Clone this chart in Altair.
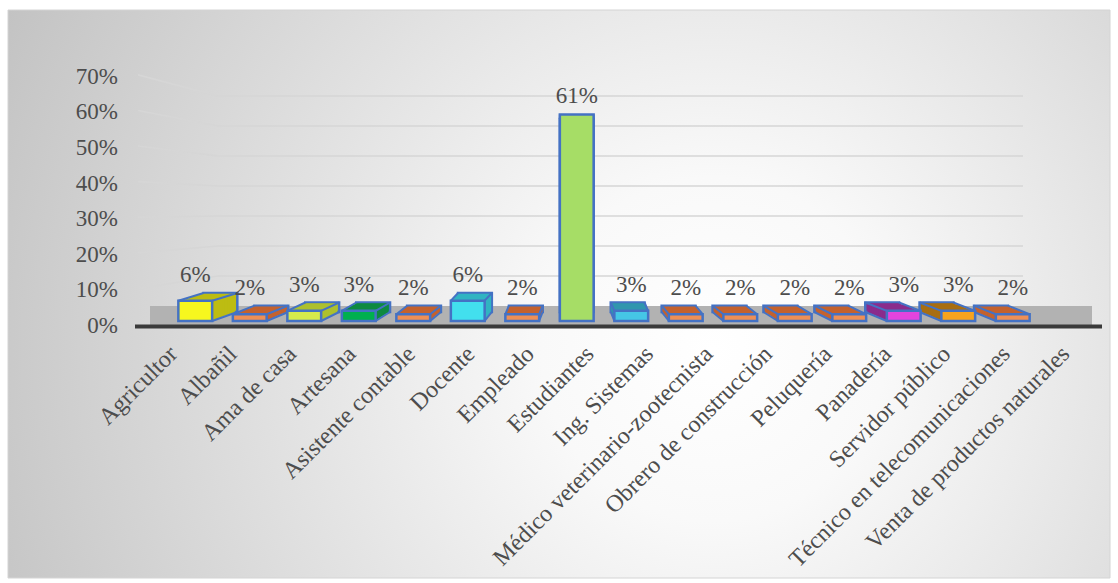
import altair as alt
import pandas as pd

# ---------------- data ----------------
categories = [
    "Agricultor", "Albañil", "Ama de casa", "Artesana", "Asistente contable",
    "Docente", "Empleado", "Estudiantes", "Ing. Sistemas",
    "Médico veterinario-zootecnista", "Obrero de construcción", "Peluquería",
    "Panadería", "Servidor público", "Técnico en telecomunicaciones",
    "Venta de productos naturales",
]
values = [6, 2, 3, 3, 2, 6, 2, 61, 3, 2, 2, 2, 2, 3, 3, 2]
tick_values = [0, 10, 20, 30, 40, 50, 60, 70]

# ---------------- styles ----------------
front_colors = [
    "#F7F71E", "#EE8F55", "#D6EA4C", "#00B04F", "#EE8F55", "#42E0EE",
    "#EE8F55", "#A6DD66", "#45C6E6", "#EE8F55", "#EE8F55", "#EE8F55",
    "#EE8F55", "#E444DE", "#F7A31E", "#EE8F55",
]
side_colors = [
    "#BDBC12", "#C4622E", "#ADC02E", "#0E8A40", "#C4622E", "#31B4C2",
    "#C4622E", "#86BE4C", "#3096AE", "#C4622E", "#C4622E", "#C4622E",
    "#C4622E", "#8A2C8C", "#A86E12", "#C4622E",
]
FONT = "Liberation Serif"
TXT = "#4d4d4d"
BLUE = "#4472C4"
W, H = 872, 237
LEFT, TOP = 168, 84

df = pd.DataFrame({"cat": categories, "v": values, "i": list(range(len(categories)))})
grid_df = pd.DataFrame({"t": tick_values})
one = pd.DataFrame({"k": [0]})

xs = alt.Scale(domain=[-0.5, len(categories) - 0.5], nice=False, zero=False)
ys = alt.Scale(domain=[0, 70], nice=False, zero=True)

# perspective helpers (Vega expressions): depth shift and back-plane mapping
DX = "clamp(0.066*(7 - datum.i), -0.4, 0.47)"
HALF = 0.31

base = alt.Chart(df)

# background panel with radial gradient
bg = alt.Chart(one).mark_rect(
    fill=alt.RadialGradient(
        gradient="radial",
        stops=[
            alt.GradientStop(offset=0, color="#ffffff"),
            alt.GradientStop(offset=0.2, color="#f9f9f9"),
            alt.GradientStop(offset=1, color="#bcbcbc"),
        ],
        x1=0.64, y1=0.55, x2=0.64, y2=0.55, r1=0, r2=0.78,
    ),
    stroke="#d4d4d4", strokeWidth=1,
).encode(x=alt.value(8 - LEFT), x2=alt.value(1110 - LEFT),
         y=alt.value(10 - TOP), y2=alt.value(578 - TOP))

# perspective gridlines
grid = alt.Chart(grid_df).transform_filter("datum.t > 0").transform_calculate(
    b="4.43 + 0.886*datum.t", f="1.0514*datum.t - 0.9"
)
grid_flat = grid.mark_rule(color="#d6d6d6", strokeWidth=1.6).encode(
    x=alt.value(218 - LEFT), x2=alt.value(1023 - LEFT),
    y=alt.Y("b:Q", scale=ys, axis=None),
)
grid_slant = grid.mark_rule(color="#d6d6d6", strokeWidth=1.6).encode(
    x=alt.value(138 - LEFT), x2=alt.value(218 - LEFT),
    y=alt.Y("f:Q", scale=ys, axis=None), y2="b:Q",
)

# y-axis labels (front plane)
ylab = alt.Chart(grid_df).transform_calculate(
    u="1.0514*datum.t - 1.477", lab="datum.t + '%'"
).mark_text(font=FONT, fontSize=23, color=TXT, align="right", baseline="middle").encode(
    x=alt.value(118 - LEFT), y=alt.Y("u:Q", scale=ys, axis=None), text="lab:N"
)

# floor
floor = alt.Chart(one).mark_rect(color="#b2b2b2").encode(
    x=alt.value(150 - LEFT), x2=alt.value(1092 - LEFT),
    y=alt.value(306 - TOP), y2=alt.value(325 - TOP)
)
floor_line = alt.Chart(one).mark_rule(color="#3a3a3a", strokeWidth=4).encode(
    x=alt.value(135 - LEFT), x2=alt.value(1102 - LEFT), y=alt.value(326.5 - TOP)
)


def face(k, stroke):
    """Box cross-section at depth fraction k (0 = front face, 1 = back face)."""
    ch = base.transform_calculate(
        dx=DX,
    ).transform_calculate(
        x0=f"datum.i - {HALF} + {k}*datum.dx",
        x1=f"datum.i + {HALF} + {k}*datum.dx",
        yt=f"datum.v + {k}*(2.66 - 0.066*datum.v)",
        yb=f"{k}*2.66",
    )
    if stroke:
        mk = ch.mark_bar(stroke=BLUE, strokeWidth=2.5)
    else:
        mk = ch.mark_bar(strokeWidth=0)
    enc = dict(
        x=alt.X("x0:Q", scale=xs, axis=None), x2="x1:Q",
        y=alt.Y("yt:Q", scale=ys, axis=None), y2="yb:Q",
    )
    if k == 0:
        enc["color"] = alt.Color("cat:N", scale=alt.Scale(domain=categories, range=front_colors), legend=None)
    else:
        enc["fill"] = alt.Fill("cat:N", scale=alt.Scale(domain=categories, range=side_colors), legend=None)
    return mk.encode(**enc)


back = face(1, True)
sweep = [face(k, False) for k in [0.9, 0.8, 0.7, 0.6, 0.5, 0.4, 0.3, 0.2, 0.1]]

# connecting edges of the boxes
edges_src = base.transform_calculate(dx=DX).transform_calculate(
    bt="0.934*datum.v + 2.66",
    xl=f"datum.i - {HALF}", xr=f"datum.i + {HALF}",
    xo=f"datum.dx > 0 ? datum.i + {HALF} : datum.i - {HALF}",
)
edge_tl = edges_src.transform_calculate(xb="datum.xl + datum.dx").mark_rule(color=BLUE, strokeWidth=2).encode(
    x=alt.X("xl:Q", scale=xs, axis=None), x2="xb:Q",
    y=alt.Y("v:Q", scale=ys, axis=None), y2="bt:Q")
edge_tr = edges_src.transform_calculate(xb="datum.xr + datum.dx").mark_rule(color=BLUE, strokeWidth=2).encode(
    x=alt.X("xr:Q", scale=xs, axis=None), x2="xb:Q",
    y=alt.Y("v:Q", scale=ys, axis=None), y2="bt:Q")
edge_b = edges_src.transform_calculate(xb="datum.xo + datum.dx", z="0", zb="2.66").mark_rule(color=BLUE, strokeWidth=2).encode(
    x=alt.X("xo:Q", scale=xs, axis=None), x2="xb:Q",
    y=alt.Y("z:Q", scale=ys, axis=None), y2="zb:Q")

front = face(0, True)

# value labels
vals = base.transform_calculate(
    lab="datum.v + '%'", top="max(datum.v, 0.934*datum.v + 2.66)"
).mark_text(
    font=FONT, fontSize=23, color=TXT, baseline="alphabetic", dy=-11
).encode(
    x=alt.X("i:Q", scale=xs, axis=None),
    y=alt.Y("top:Q", scale=ys, axis=None),
    text="lab:N",
)

# category labels (rotated, on the front edge of the floor)
xl = base.transform_calculate(lx="datum.i*1.0913 - 0.55").mark_text(
    font=FONT, fontSize=24, color=TXT, angle=315, align="right", baseline="top"
).encode(
    x=alt.X("lx:Q", scale=xs, axis=None),
    y=alt.value(342 - TOP),
    text="cat:N",
)

layers = [bg, grid_slant, grid_flat, ylab, floor, floor_line, back] + sweep + [
    edge_tl, edge_tr, edge_b, front, vals, xl]

chart = alt.layer(*layers).properties(
    width=W, height=H,
    autosize=alt.AutoSizeParams(type="none"),
    padding={"left": LEFT, "top": TOP, "right": 1118 - LEFT - W, "bottom": 583 - TOP - H},
    background="white",
).configure_view(stroke=None)

chart.save("out.html", embed_options={"renderer": "svg", "actions": False})
